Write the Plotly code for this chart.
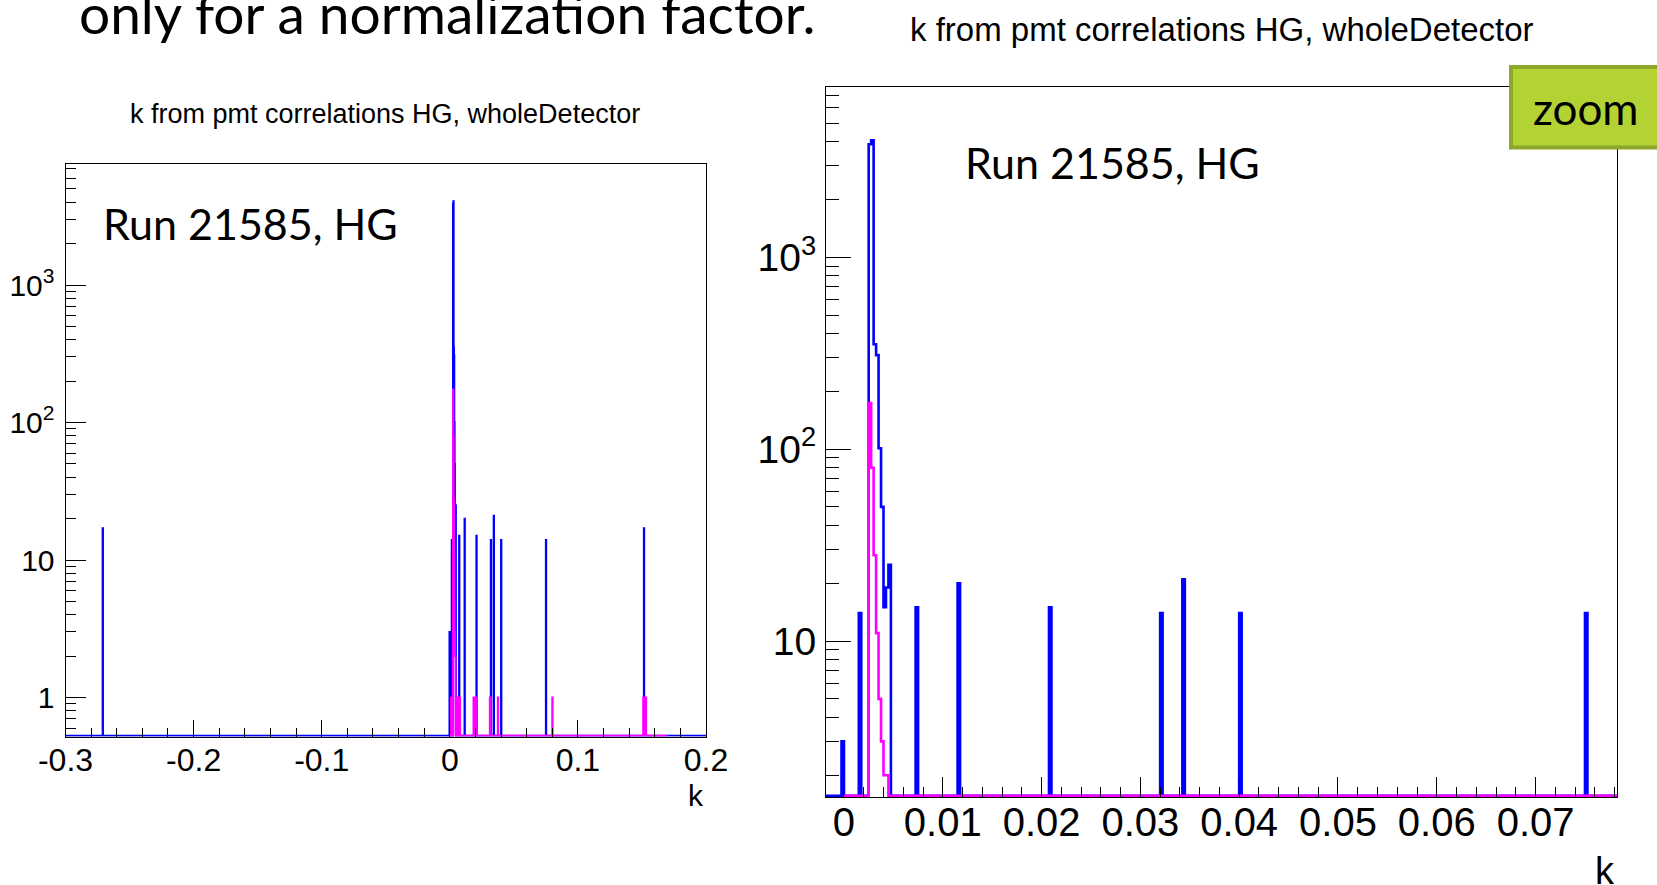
import numpy as np
import plotly.graph_objects as go

# ---------------- data ----------------
BIN_WIDTH = 0.00025
BLUE_RANGE = (-0.3, 0.2)
MAGENTA_RANGE = (0.0, 0.17)

# bin centres (k) and entries, all events
blue_k = [-0.270875, -0.000125, 0.001625, 0.002625, 0.002875, 0.003125,
          0.003375, 0.003625, 0.003875, 0.004125, 0.004375, 0.004625,
          0.007375, 0.011625, 0.020875, 0.032125, 0.034375, 0.040125,
          0.075125, 0.151625]
blue_n = [17, 3, 14, 3880, 4065, 352,
          309, 101, 50, 15, 19, 25,
          15, 20, 15, 14, 21, 14,
          14, 17]

# bin centres (k) and entries, selected events
magenta_k = [0.001125, 0.001625, 0.002125, 0.002625, 0.002875, 0.003125,
             0.003375, 0.003625, 0.003875, 0.004125, 0.004375, 0.004875,
             0.005375, 0.005875, 0.006375, 0.006875, 0.007375, 0.007875,
             0.018625, 0.019125, 0.019625, 0.020125, 0.020625, 0.031375,
             0.031875, 0.037625, 0.080125, 0.151125, 0.151625, 0.152125,
             0.152625, 0.153125]
magenta_n = [1, 1, 1, 174, 80, 28,
             11, 5, 3, 2, 2, 1,
             1, 1, 1, 1, 1, 1,
             1, 1, 1, 1, 1, 1,
             1, 1, 1, 1, 1, 1,
             1, 1]

left_xticks = [-0.3, -0.2, -0.1, 0.0, 0.1, 0.2]
left_xlabels = ["-0.3", "-0.2", "-0.1", "0", "0.1", "0.2"]
right_xticks = [0.0, 0.01, 0.02, 0.03, 0.04, 0.05, 0.06, 0.07]
right_xlabels = ["0", "0.01", "0.02", "0.03", "0.04", "0.05", "0.06", "0.07"]
left_yticks = [1, 10, 100, 1000]
left_ylabels = ["1", "10", "10<sup>2</sup>", "10<sup>3</sup>"]
right_yticks = [10, 100, 1000]
right_ylabels = ["10", "10<sup>2</sup>", "10<sup>3</sup>"]

TITLE = "k from pmt correlations HG, wholeDetector"
RUN_LABEL = "Run 21585, HG"
SLIDE_TEXT = "only for a normalization factor."

# ---------------- geometry ----------------
W, H = 1657, 885


def px(x):
    return x / W


def py(y):
    return 1 - y / H


LEFT_X = [-0.3, 0.2]
LEFT_Y = [-0.284, 3.88]
RIGHT_X = [-0.00182, 0.07824]
RIGHT_Y = [0.1875, 3.887]


def hist(k, n, rng):
    nb = int(round((rng[1] - rng[0]) / BIN_WIDTH))
    edges = rng[0] + BIN_WIDTH * np.arange(nb + 1)
    counts, _ = np.histogram(k, bins=edges, weights=n)
    return edges, counts


def step(edges, counts, ylog_min):
    floor = 10 ** ylog_min * 1.015
    y = np.maximum(counts, floor)
    return edges, np.append(y, y[-1])


be, bc = hist(blue_k, blue_n, BLUE_RANGE)
me, mc = hist(magenta_k, magenta_n, MAGENTA_RANGE)

BLUE = "#0000ff"
MAGENTA = "#ff00ff"
fig = go.Figure()
for xa, ya, ymin, lw in (("x", "y", LEFT_Y[0], 2), ("x2", "y2", RIGHT_Y[0], 2.6)):
    for e, c, col in ((be, bc, BLUE), (me, mc, MAGENTA)):
        sx, sy = step(e, c, ymin)
        fig.add_trace(go.Scatter(
            x=sx, y=sy, xaxis=xa, yaxis=ya, mode="lines",
            line=dict(color=col, width=lw, shape="hv", simplify=False),
            hoverinfo="skip", showlegend=False))

AX_FONT = "Liberation Sans, Arial, Helvetica, sans-serif"
SLIDE_FONT = "Lato, Open Sans, sans-serif"


def axis_common():
    return dict(showline=True, linecolor="black", linewidth=1, mirror=True,
                ticks="inside", tickcolor="black", tickwidth=1,
                showgrid=False, zeroline=False, fixedrange=True,
                automargin=False)


xaxis = axis_common()
xaxis.update(domain=[px(65.5), px(706)], range=LEFT_X, anchor="y",
             tickmode="array", tickvals=left_xticks, ticktext=left_xlabels,
             ticklen=17, ticklabelstandoff=-5,
             tickfont=dict(family=AX_FONT, size=32, color="black"),
             minor=dict(ticks="inside", ticklen=9, tickcolor="black",
                        tickmode="linear", tick0=0, dtick=0.02, showgrid=False))
yaxis = axis_common()
yaxis.update(domain=[py(736.6), py(164)], type="log", range=LEFT_Y, anchor="x",
             tickmode="array", tickvals=left_yticks, ticktext=left_ylabels,
             ticklen=20, ticklabelstandoff=4,
             tickfont=dict(family=AX_FONT, size=30, color="black"),
             minor=dict(ticks="inside", ticklen=10, tickcolor="black",
                        dtick="D1", showgrid=False))
xaxis2 = axis_common()
xaxis2.update(domain=[px(826), px(1617)], range=RIGHT_X, anchor="y2",
              tickmode="array", tickvals=right_xticks, ticktext=right_xlabels,
              ticklen=20, ticklabelstandoff=-10,
              tickfont=dict(family=AX_FONT, size=40, color="black"),
              minor=dict(ticks="inside", ticklen=10, tickcolor="black",
                         tickmode="linear", tick0=0, dtick=0.002, showgrid=False))
yaxis2 = axis_common()
yaxis2.update(domain=[py(797), py(87)], type="log", range=RIGHT_Y, anchor="x2",
              tickmode="array", tickvals=right_yticks, ticktext=right_ylabels,
              ticklen=25, ticklabelstandoff=1,
              tickfont=dict(family=AX_FONT, size=39, color="black"),
              minor=dict(ticks="inside", ticklen=13, tickcolor="black",
                         dtick="D1", showgrid=False))

annotations = [
    dict(text=TITLE, x=px(385), y=py(114), font=dict(family=AX_FONT, size=27, color="black")),
    dict(text=TITLE, x=px(1221.6), y=py(29.6), font=dict(family=AX_FONT, size=33, color="black")),
    dict(text=RUN_LABEL, x=px(250), y=py(224), font=dict(family=SLIDE_FONT, size=43, color="black")),
    dict(text=RUN_LABEL, x=px(1112.5), y=py(162), font=dict(family=SLIDE_FONT, size=43, color="black")),
    dict(text="k", x=px(696), y=py(795), font=dict(family=AX_FONT, size=30, color="black")),
    dict(text="k", x=px(1605), y=py(871), font=dict(family=AX_FONT, size=38, color="black")),
    dict(text=SLIDE_TEXT, x=px(77), y=py(13.5), xanchor="left",
         font=dict(family=SLIDE_FONT, size=55, color="black")),
    dict(text="zoom", x=px(1586), y=py(108), font=dict(family=SLIDE_FONT, size=44, color="black")),
]
for a in annotations:
    a.setdefault("xanchor", "center")
    a.update(xref="paper", yref="paper", yanchor="middle", showarrow=False)

shapes = [dict(type="rect", xref="paper", yref="paper", layer="above",
               x0=px(1511), x1=px(1700), y0=py(147.5), y1=py(67),
               fillcolor="#b3d334", line=dict(color="#8ca82b", width=4))]

fig.update_layout(
    width=W, height=H, margin=dict(l=0, r=0, t=0, b=0, autoexpand=False),
    paper_bgcolor="white", plot_bgcolor="white",
    xaxis=xaxis, yaxis=yaxis, xaxis2=xaxis2, yaxis2=yaxis2,
    annotations=annotations, shapes=shapes, showlegend=False,
)
fig.write_html(
    "out.html",
    config={"displayModeBar": False, "staticPlot": True},
    post_script="document.body.style.margin='0px';document.body.style.overflow='hidden';",
)
